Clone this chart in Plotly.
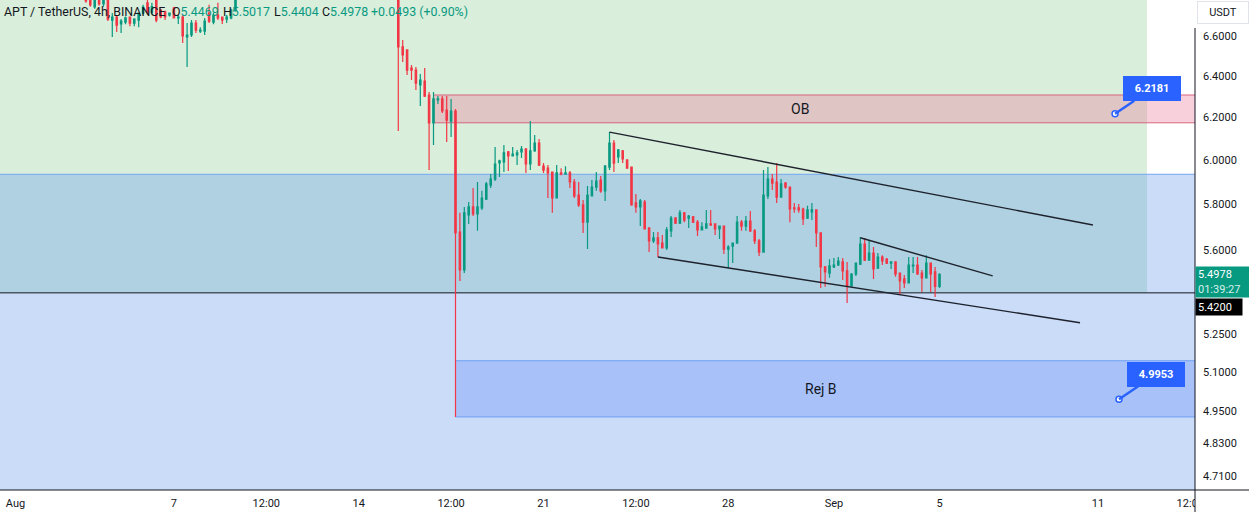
import math
import pandas as pd
import plotly.graph_objects as go

# ---------------- data (APT/USDT, 4h candles, BINANCE) ----------------
seg_a_start = "2023-08-03 16:00"
seg_a_open  = [6.84, 6.80, 6.749, 6.80, 6.765, 6.81, 6.681, 6.697, 6.661, 6.671, 6.697, 6.666, 6.681, 6.717,
               6.770, 6.720, 6.790, 6.733, 6.723, 6.707, 6.743, 6.692, 6.697, 6.595, 6.605, 6.666, 6.625,
               6.625, 6.717, 6.671, 6.707, 6.697, 6.686, 6.692, 6.733]
seg_a_high  = [6.86, 6.83, 6.82, 6.82, 6.83, 6.83, 6.717, 6.707, 6.686, 6.700, 6.700, 6.690, 6.720, 6.760,
               6.790, 6.770, 6.800, 6.740, 6.730, 6.720, 6.750, 6.707, 6.707, 6.666, 6.681, 6.681, 6.645,
               6.692, 6.760, 6.720, 6.770, 6.700, 6.707, 6.740, 6.810]
seg_a_low   = [6.77, 6.75, 6.74, 6.755, 6.75, 6.676, 6.595, 6.620, 6.615, 6.660, 6.650, 6.650, 6.645, 6.710,
               6.710, 6.710, 6.670, 6.690, 6.681, 6.700, 6.690, 6.661, 6.565, 6.445, 6.595, 6.615, 6.615,
               6.605, 6.666, 6.660, 6.681, 6.661, 6.666, 6.685, 6.725]
seg_a_close = [6.78, 6.759, 6.80, 6.765, 6.81, 6.686, 6.697, 6.655, 6.676, 6.692, 6.666, 6.686, 6.717, 6.748,
               6.720, 6.750, 6.681, 6.697, 6.697, 6.717, 6.692, 6.697, 6.600, 6.605, 6.666, 6.630, 6.630,
               6.676, 6.676, 6.707, 6.692, 6.681, 6.697, 6.733, 6.790]

seg_b_start = "2023-08-15 12:00"
seg_b_open  = [6.86, 6.545, 6.530, 6.440, 6.430, 6.357, 6.376, 6.308, 6.174, 6.284, 6.289, 6.236, 6.183, 6.231,
               5.679, 5.516, 5.754, 5.789, 5.758, 5.785, 5.824, 5.887, 5.914, 5.988, 5.992, 6.039, 6.020,
               6.025, 6.039, 6.052, 5.983, 6.043, 6.080, 5.973, 5.964, 5.946, 5.829, 5.942, 5.937, 5.942,
               5.901, 5.842, 5.798, 5.722, 5.838, 5.878, 5.910, 5.861, 5.969, 6.080, 6.016, 6.043, 6.001,
               5.969, 5.807, 5.789, 5.811, 5.696, 5.640, 5.653, 5.631, 5.610, 5.684, 5.740, 5.718, 5.763,
               5.740, 5.745, 5.722, 5.688, 5.696, 5.714, 5.714, 5.692, 5.705, 5.605, 5.618, 5.631, 5.722,
               5.705, 5.727, 5.684, 5.640, 5.592, 5.838, 5.914, 5.901, 5.833, 5.896, 5.878, 5.785, 5.785,
               5.780, 5.740, 5.767, 5.776, 5.675, 5.529, 5.503, 5.529, 5.537, 5.550, 5.512, 5.449, 5.499,
               5.541, 5.627, 5.558, 5.588, 5.524, 5.571, 5.562, 5.545, 5.550, 5.503, 5.478, 5.462, 5.533,
               5.537, 5.503, 5.483, 5.545, 5.508, 5.4469]
seg_b_high  = [6.88, 6.580, 6.530, 6.455, 6.445, 6.410, 6.440, 6.322, 6.322, 6.303, 6.303, 6.303, 6.289, 6.241,
               5.763, 5.789, 5.811, 5.874, 5.901, 5.861, 5.901, 5.937, 6.062, 6.002, 6.071, 6.043, 6.062,
               6.048, 6.066, 6.057, 6.183, 6.117, 6.099, 5.987, 5.978, 5.946, 5.978, 5.964, 5.973, 5.951,
               5.914, 5.901, 5.820, 5.883, 5.910, 5.946, 5.928, 5.978, 6.131, 6.094, 6.052, 6.048, 6.006,
               5.969, 5.847, 5.824, 5.820, 5.701, 5.679, 5.679, 5.666, 5.701, 5.749, 5.745, 5.776, 5.767,
               5.754, 5.749, 5.731, 5.722, 5.776, 5.776, 5.714, 5.705, 5.705, 5.622, 5.631, 5.749, 5.731,
               5.749, 5.771, 5.692, 5.649, 5.955, 5.969, 5.937, 5.987, 5.914, 5.901, 5.878, 5.807, 5.802,
               5.785, 5.794, 5.807, 5.776, 5.675, 5.533, 5.562, 5.567, 5.571, 5.567, 5.550, 5.503, 5.545,
               5.657, 5.653, 5.644, 5.614, 5.588, 5.579, 5.567, 5.550, 5.550, 5.503, 5.495, 5.571, 5.571,
               5.571, 5.516, 5.579, 5.545, 5.529, 5.5017]
seg_b_low   = [6.136, 6.470, 6.405, 6.381, 6.332, 6.255, 6.298, 5.955, 6.071, 6.265, 6.222, 6.085, 6.108, 4.928,
               5.470, 5.503, 5.714, 5.749, 5.684, 5.776, 5.820, 5.874, 5.905, 5.924, 5.946, 5.951, 6.020,
               5.978, 6.011, 5.942, 5.955, 6.039, 5.974, 5.942, 5.829, 5.763, 5.829, 5.932, 5.937, 5.874,
               5.829, 5.789, 5.675, 5.605, 5.838, 5.861, 5.852, 5.815, 5.955, 5.946, 5.987, 5.987, 5.964,
               5.794, 5.763, 5.705, 5.692, 5.592, 5.631, 5.571, 5.610, 5.601, 5.657, 5.714, 5.714, 5.722,
               5.696, 5.718, 5.662, 5.688, 5.696, 5.705, 5.666, 5.649, 5.584, 5.524, 5.545, 5.631, 5.684,
               5.684, 5.679, 5.627, 5.575, 5.592, 5.824, 5.865, 5.807, 5.833, 5.870, 5.722, 5.763, 5.763,
               5.710, 5.736, 5.731, 5.614, 5.440, 5.445, 5.483, 5.524, 5.533, 5.474, 5.378, 5.445, 5.491,
               5.537, 5.554, 5.558, 5.478, 5.520, 5.537, 5.541, 5.520, 5.487, 5.411, 5.440, 5.462, 5.503,
               5.495, 5.424, 5.483, 5.424, 5.403, 5.4404]
seg_b_close = [6.545, 6.505, 6.430, 6.430, 6.366, 6.381, 6.303, 6.174, 6.289, 6.289, 6.231, 6.188, 6.231, 5.675,
               5.516, 5.763, 5.789, 5.758, 5.789, 5.829, 5.892, 5.914, 5.983, 5.997, 6.034, 6.020, 6.029,
               6.034, 6.052, 5.983, 6.043, 6.080, 5.978, 5.955, 5.942, 5.829, 5.942, 5.937, 5.942, 5.901,
               5.838, 5.798, 5.722, 5.842, 5.878, 5.905, 5.861, 5.973, 6.080, 5.987, 6.048, 6.006, 5.964,
               5.798, 5.789, 5.816, 5.692, 5.640, 5.653, 5.627, 5.610, 5.688, 5.740, 5.718, 5.763, 5.731,
               5.749, 5.722, 5.688, 5.701, 5.714, 5.710, 5.692, 5.705, 5.605, 5.614, 5.631, 5.722, 5.705,
               5.727, 5.684, 5.640, 5.592, 5.842, 5.914, 5.896, 5.833, 5.892, 5.878, 5.780, 5.780, 5.776,
               5.736, 5.776, 5.776, 5.675, 5.529, 5.508, 5.533, 5.537, 5.554, 5.512, 5.449, 5.499, 5.545,
               5.627, 5.558, 5.588, 5.520, 5.571, 5.554, 5.545, 5.550, 5.499, 5.470, 5.462, 5.537, 5.537,
               5.499, 5.483, 5.545, 5.499, 5.447, 5.4978]

# drawings
trend_upper_x = ["2023-08-23 12:00", "2023-09-10 19:30"]
trend_upper_y = [6.131, 5.7095]
trend_lower_x = ["2023-08-25 08:00", "2023-09-10 07:45"]
trend_lower_y = [5.571, 5.297]
trend_small_x = ["2023-09-02 00:00", "2023-09-07 00:20"]
trend_small_y = [5.654, 5.491]

level_line = 5.42
zone_split = 5.936            # boundary between green and blue zones
ob_low, ob_high = 6.175, 6.308
ob_start = "2023-08-16 20:00"
rej_low, rej_high = 4.928, 5.145
rej_start = "2023-08-17 16:00"
ob_label_x, rej_label_x = "2023-08-30 17:10", "2023-08-31 12:15"

callout_prices = [6.2181, 4.9953]
callout_x = ["2023-09-11 15:35", "2023-09-11 19:10"]

last_price = 5.4978
countdown = "01:39:27"

x_tickvals = ["2023-08-01", "2023-08-07", "2023-08-10 12:00", "2023-08-14", "2023-08-17 12:00", "2023-08-21",
              "2023-08-24 12:00", "2023-08-28", "2023-09-01", "2023-09-05", "2023-09-11", "2023-09-14 12:00"]
x_ticktext = ["Aug", "7", "12:00", "14", "12:00", "21", "12:00", "28", "Sep", "5", "11", "12:00"]
y_tickvals = [6.6, 6.4, 6.2, 6.0, 5.8, 5.6, 5.25, 5.1, 4.95, 4.83, 4.71]
y_ticktext = ["%.4f" % v for v in y_tickvals]

# ---------------- figure ----------------
W, H = 1249, 512
ML, MR, MT, MB = 0, 54, 0, 22
PW, PH = W - ML - MR, H - MT - MB
UP, DN = "#089981", "#f23645"
BLUE = "#2962ff"
TXT = "#131722"
FONT = "Roboto"

x_range = ["2023-07-31 09:55", "2023-09-14 16:16"]
y_range = [0.668340, 0.831534]
y_top, y_bot = 10 ** y_range[1], 10 ** y_range[0]


def px_x(p):
    return p / PW


def px_y(p):
    return 1 - p / PH


xa = pd.date_range(seg_a_start, periods=len(seg_a_open), freq="4h")
xb = pd.date_range(seg_b_start, periods=len(seg_b_open), freq="4h")
x_all = list(xa) + list(xb)

fig = go.Figure()

fig.add_trace(go.Candlestick(
    x=x_all,
    open=seg_a_open + seg_b_open, high=seg_a_high + seg_b_high,
    low=seg_a_low + seg_b_low, close=seg_a_close + seg_b_close,
    increasing=dict(line=dict(color=UP, width=1.2), fillcolor=UP),
    decreasing=dict(line=dict(color=DN, width=1.2), fillcolor=DN),
    whiskerwidth=0, hoverinfo="skip", showlegend=False,
))

for tx, ty in [(trend_upper_x, trend_upper_y), (trend_lower_x, trend_lower_y), (trend_small_x, trend_small_y)]:
    fig.add_trace(go.Scatter(x=tx, y=ty, mode="lines", line=dict(color="#1e222d", width=1.4),
                             hoverinfo="skip", showlegend=False))

fig.add_trace(go.Scatter(x=callout_x, y=callout_prices, mode="markers",
                         marker=dict(size=6, color="white", line=dict(color=BLUE, width=1.5)),
                         hoverinfo="skip", showlegend=False))

shapes = []
# background zones
shapes.append(dict(type="rect", xref="paper", yref="y", x0=0, x1=1, y0=y_bot, y1=zone_split,
                   fillcolor="#cadcf8", line=dict(width=0), layer="below"))
shapes.append(dict(type="rect", xref="paper", yref="y", x0=0, x1=px_x(1147), y0=zone_split, y1=y_top,
                   fillcolor="#d9eedb", line=dict(width=0), layer="below"))
shapes.append(dict(type="rect", xref="paper", yref="y", x0=0, x1=px_x(1147), y0=level_line, y1=zone_split,
                   fillcolor="#afd1e1", line=dict(width=0), layer="below"))
shapes.append(dict(type="line", xref="paper", yref="y", x0=0, x1=1, y0=zone_split, y1=zone_split,
                   line=dict(color="#74a6f4", width=1), layer="below"))
# OB box
shapes.append(dict(type="rect", xref="x", yref="y", x0=ob_start, x1="2023-09-20", y0=ob_low, y1=ob_high,
                   fillcolor="rgba(236,127,160,0.37)", line=dict(width=0), layer="below"))
for v in (ob_low, ob_high):
    shapes.append(dict(type="line", xref="x", yref="y", x0=ob_start, x1="2023-09-20", y0=v, y1=v,
                       line=dict(color="#d5657f", width=1), layer="below"))
# Rej B box
shapes.append(dict(type="rect", xref="x", yref="y", x0=rej_start, x1="2023-09-20", y0=rej_low, y1=rej_high,
                   fillcolor="rgba(41,98,255,0.21)", line=dict(width=0), layer="below"))
for v in (rej_low, rej_high):
    shapes.append(dict(type="line", xref="x", yref="y", x0=rej_start, x1="2023-09-20", y0=v, y1=v,
                       line=dict(color="#6d9ff5", width=1), layer="below"))
# 5.42 level
shapes.append(dict(type="line", xref="paper", yref="y", x0=0, x1=1, y0=level_line, y1=level_line,
                   line=dict(color="#131722", width=1), layer="below"))
# cover overflow of last time label, then axis lines
shapes.append(dict(type="rect", xref="paper", yref="paper", x0=1, x1=W / PW, y0=-MB / PH, y1=0,
                   fillcolor="white", line=dict(width=0), layer="above"))
shapes.append(dict(type="line", xref="paper", yref="paper", x0=0, x1=W / PW, y0=0, y1=0,
                   line=dict(color="#131722", width=1), layer="above"))
shapes.append(dict(type="line", xref="paper", yref="paper", x0=1, x1=1, y0=-MB / PH, y1=px_y(28),
                   line=dict(color="#131722", width=1), layer="above"))

annotations = []
# legend header
hdr_y = px_y(11)
hdr = [(2, f"<span style='color:{TXT}'>APT / TetherUS, 4h, BINANCE</span>"),
       (170, f"O<span style='color:{UP}'>{seg_b_open[-1]:.4f}</span>"),
       (221, f"H<span style='color:{UP}'>{seg_b_high[-1]:.4f}</span>"),
       (272, f"L<span style='color:{UP}'>{seg_b_low[-1]:.4f}</span>"),
       (320, f"C<span style='color:{UP}'>{seg_b_close[-1]:.4f}</span>"),
       (369, f"<span style='color:{UP}'>+0.0493 (+0.90%)</span>")]
for px, t in hdr:
    annotations.append(dict(xref="paper", yref="paper", x=px_x(px), y=hdr_y, xanchor="left", yanchor="middle",
                            text=t, showarrow=False, font=dict(family=FONT, size=12.4, color=TXT)))
# box labels
annotations.append(dict(xref="x", yref="y", x=ob_label_x, y=math.log10(math.sqrt(ob_low * ob_high)),
                        text="OB", showarrow=False, font=dict(family=FONT, size=14, color=TXT)))
annotations.append(dict(xref="x", yref="y", x=rej_label_x, y=math.log10(math.sqrt(rej_low * rej_high)),
                        text="Rej B", showarrow=False, font=dict(family=FONT, size=14, color=TXT)))
# callouts
for cx, cp in zip(callout_x, callout_prices):
    annotations.append(dict(xref="x", yref="y", x=cx, y=math.log10(cp), text=f"<b>{cp:.4f}</b>",
                            showarrow=True, arrowhead=0, arrowwidth=2.5, arrowcolor=BLUE, ax=37, ay=-25,
                            bgcolor=BLUE, bordercolor=BLUE, borderpad=4, width=48, height=15,
                            font=dict(family=FONT, size=11, color="white")))
# price-axis labels
annotations.append(dict(xref="paper", yref="paper", x=px_x(1223), y=px_y(13), xanchor="center",
                        yanchor="middle", text="USDT", showarrow=False,
                        bgcolor="white", bordercolor="#e0e3eb", borderwidth=1, borderpad=2, width=46, height=17,
                        font=dict(family=FONT, size=11, color=TXT)))
annotations.append(dict(xref="paper", yref="paper", x=1.0, y=px_y(282), xanchor="left", yanchor="middle",
                        text=f"{last_price:.4f}<br><span style='color:#d6efe9'>{countdown}</span>",
                        align="left", showarrow=False, bgcolor=UP, borderpad=2, width=50, height=26,
                        font=dict(family=FONT, size=11, color="white")))
annotations.append(dict(xref="paper", yref="paper", x=1.0, y=px_y(307), xanchor="left", yanchor="middle",
                        text=f"{level_line:.4f}", align="left", showarrow=False, bgcolor="#000000",
                        borderpad=2, width=42, height=12, font=dict(family=FONT, size=11, color="white")))

fig.update_layout(
    width=W, height=H, margin=dict(l=ML, r=MR, t=MT, b=MB, pad=0),
    paper_bgcolor="white", plot_bgcolor="white", template="none",
    showlegend=False, hovermode=False, dragmode=False, boxgap=0.55,
    shapes=shapes, annotations=annotations,
    font=dict(family=FONT, size=11, color=TXT),
    xaxis=dict(type="date", range=x_range, rangeslider=dict(visible=False), showgrid=False, zeroline=False,
               showline=False, ticks="", tickvals=x_tickvals, ticktext=x_ticktext, automargin=False,
               tickfont=dict(family=FONT, size=11, color=TXT), ticklabelstandoff=5),
    yaxis=dict(type="log", side="right", range=y_range, showgrid=False, zeroline=False, showline=False,
               ticks="", tickvals=y_tickvals, ticktext=y_ticktext, automargin=False,
               tickfont=dict(family=FONT, size=11, color=TXT), ticklabelstandoff=7),
)

fig.write_html("out.html", config={"displayModeBar": False, "staticPlot": True})
